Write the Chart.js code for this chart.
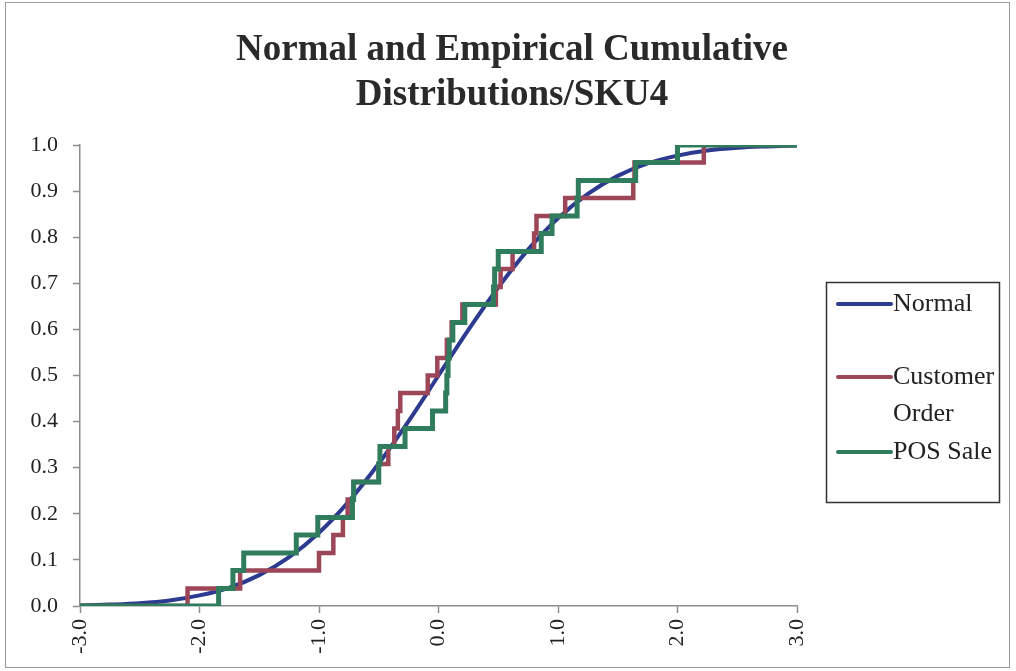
<!DOCTYPE html>
<html>
<head>
<meta charset="utf-8">
<title>Normal and Empirical Cumulative Distributions/SKU4</title>
<script src="https://cdn.jsdelivr.net/npm/chart.js@4.4.1/dist/chart.umd.min.js"></script>
<style>
  html, body { margin: 0; padding: 0; background: #fff; }
  canvas { display: block; }
</style>
</head>
<body>
<canvas id="graficoCDF" width="1016" height="671"></canvas>
<script>
// datos
const normalX = [-3.0, -2.75, -2.5, -2.25, -2.0, -1.75, -1.5, -1.25, -1.0, -0.75, -0.5, -0.25, 0.0,
                 0.25, 0.5, 0.75, 1.0, 1.25, 1.5, 1.75, 2.0, 2.25, 2.5, 2.75, 3.0];
const normalY = [0.001, 0.003, 0.006, 0.012, 0.023, 0.040, 0.067, 0.106, 0.159, 0.227, 0.309, 0.401, 0.500,
                 0.599, 0.691, 0.773, 0.841, 0.894, 0.933, 0.960, 0.977, 0.988, 0.994, 0.997, 0.999];

// niveles de los escalones (iguales para las dos series empiricas)
const stepLevels = [0.000, 0.038, 0.077, 0.115, 0.154, 0.192, 0.231, 0.269, 0.308, 0.346, 0.385, 0.423, 0.462,
                    0.500, 0.538, 0.577, 0.615, 0.654, 0.692, 0.731, 0.769, 0.808, 0.846, 0.885, 0.923,
                    0.962, 1.000, 1.000];

const customerX = [-3.0, -2.10, -1.66, -1.00, -0.88, -0.80, -0.76, -0.71, -0.50, -0.42, -0.37, -0.34, -0.32,
                   -0.09, -0.01, 0.07, 0.11, 0.20, 0.48, 0.52, 0.62, 0.80, 0.82, 1.06, 1.63,
                   1.64, 2.22, 3.0];
const posX = [-3.0, -1.84, -1.72, -1.63, -1.19, -1.01, -0.72, -0.71, -0.50, -0.49, -0.28, -0.05, 0.06,
              0.07, 0.08, 0.09, 0.12, 0.22, 0.46, 0.47, 0.50, 0.86, 0.95, 1.16, 1.17,
              1.65, 2.00, 3.0];

const xTicks = [-3, -2, -1, 0, 1, 2, 3];
const titleLines = ['Normal and Empirical Cumulative', 'Distributions/SKU4'];
const seriesNames = ['Normal', 'Customer Order', 'POS Sale'];
const seriesColors = ['#2c3a8f', '#9c4658', '#2f7d5c'];

function toPoints(xs, ys) {
    return xs.map((x, i) => ({ x: x, y: ys[i] }));
}

const serif = "'Liberation Serif', 'Times New Roman', serif";

// marco, titulo y leyenda dibujados a mano
const marcoYLeyenda = {
    id: 'marcoYLeyenda',
    beforeDraw(chart) {
        const c = chart.ctx;
        c.save();
        c.fillStyle = '#fff';
        c.fillRect(0, 0, chart.width, chart.height);
        c.strokeStyle = '#9a9a9a';
        c.lineWidth = 1;
        c.strokeRect(5.5, 2.5, 1004, 665);
        c.restore();
    },
    afterDraw(chart) {
        const c = chart.ctx;
        c.save();
        // titulo centrado en todo el lienzo
        c.font = 'bold 37px ' + serif;
        c.fillStyle = '#2a2a2a';
        c.textAlign = 'center';
        c.textBaseline = 'middle';
        titleLines.forEach((t, i) => c.fillText(t, 512, 50 + i * 45));

        c.textAlign = 'left';
        c.strokeStyle = '#333';
        c.lineWidth = 1.5;
        c.strokeRect(826.5, 282.5, 173, 220);

        const rows = [
            { lines: ['Normal'], y: 304, color: seriesColors[0] },
            { lines: ['Customer', 'Order'], y: 377, color: seriesColors[1] },
            { lines: ['POS Sale'], y: 452, color: seriesColors[2] }
        ];
        c.font = '26px ' + serif;
        c.fillStyle = '#222';
        c.lineCap = 'round';
        rows.forEach(r => {
            c.strokeStyle = r.color;
            c.lineWidth = 4;
            c.beginPath();
            c.moveTo(838, r.y);
            c.lineTo(891, r.y);
            c.stroke();
            r.lines.forEach((t, i) => c.fillText(t, 893, r.y + i * 37));
        });
        c.restore();
    }
};

const ctxCDF = document.getElementById('graficoCDF');

let cdfChart = new Chart(ctxCDF, {
    type: 'line',
    data: {
        datasets: [{
            label: seriesNames[2],
            data: toPoints(posX, stepLevels),
            borderColor: seriesColors[2],
            borderWidth: 5,
            stepped: 'before',
            pointRadius: 0,
            order: 1
        }, {
            label: seriesNames[1],
            data: toPoints(customerX, stepLevels),
            borderColor: seriesColors[1],
            borderWidth: 4.5,
            stepped: 'before',
            pointRadius: 0,
            order: 2
        }, {
            label: seriesNames[0],
            data: toPoints(normalX, normalY),
            borderColor: seriesColors[0],
            borderWidth: 4,
            cubicInterpolationMode: 'monotone',
            pointRadius: 0,
            order: 3
        }]
    },
    options: {
        responsive: false,
        animation: false,
        layout: { padding: { left: 0, right: 219, top: 145, bottom: 0 } },
        plugins: {
            legend: { display: false },
            tooltip: { enabled: false },
            title: { display: false }
        },
        scales: {
            x: {
                type: 'linear',
                min: -3,
                max: 3,
                afterBuildTicks: axis => { axis.ticks = xTicks.map(v => ({ value: v })); },
                afterFit: axis => { axis.height = 65; },
                border: { color: '#8c8c8c', width: 1.5 },
                grid: { drawOnChartArea: false, tickLength: 7, color: '#8c8c8c', tickWidth: 1.5 },
                ticks: {
                    minRotation: 90,
                    maxRotation: 90,
                    padding: 6,
                    color: '#222',
                    font: { family: serif, size: 22 },
                    callback: v => v.toFixed(1)
                }
            },
            y: {
                min: 0,
                max: 1,
                afterFit: axis => { axis.width = 80; },
                border: { color: '#8c8c8c', width: 1.5 },
                grid: { drawOnChartArea: false, tickLength: 7, color: '#8c8c8c', tickWidth: 1.5 },
                ticks: {
                    stepSize: 0.1,
                    padding: 15,
                    color: '#222',
                    font: { family: serif, size: 22 },
                    callback: v => v.toFixed(1)
                }
            }
        }
    },
    plugins: [marcoYLeyenda]
});
</script>
</body>
</html>
